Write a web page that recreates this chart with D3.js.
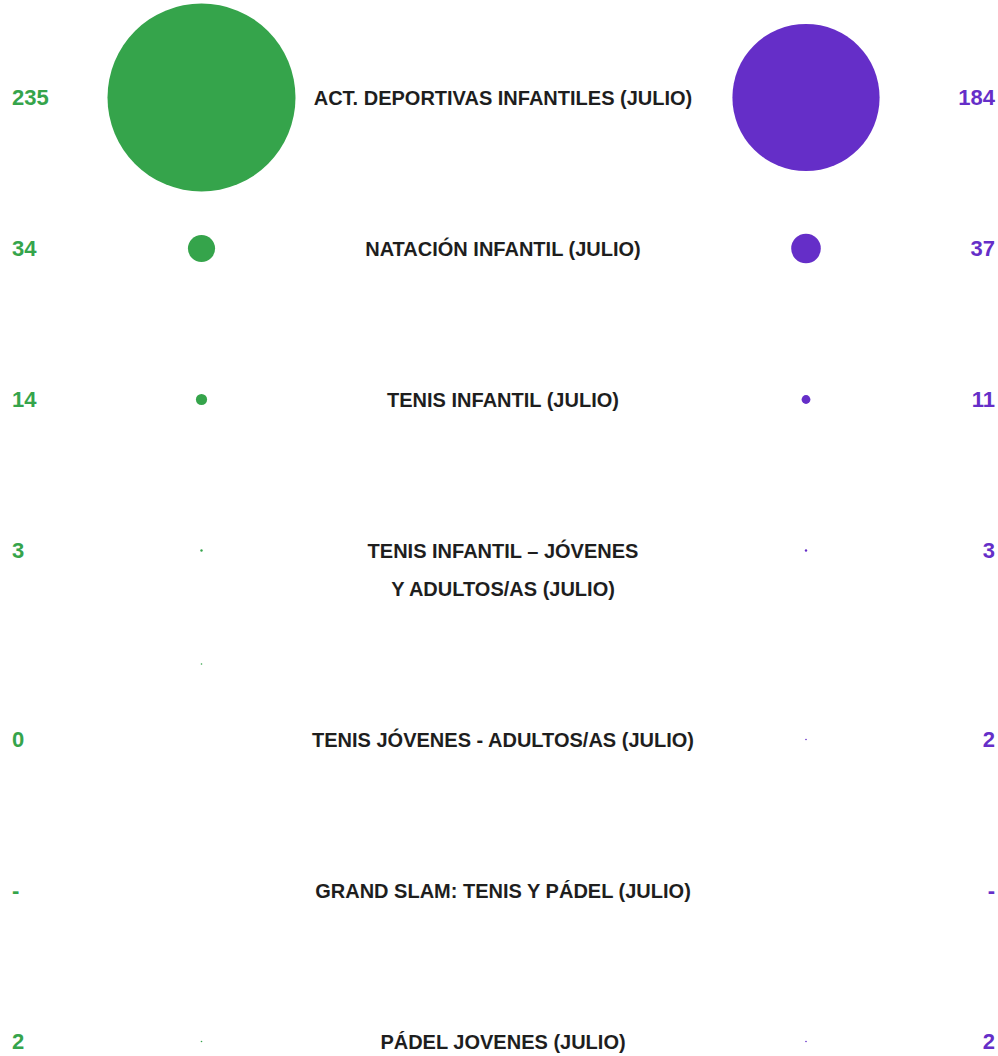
<!DOCTYPE html>
<html><head><meta charset="utf-8">
<script src="https://cdn.jsdelivr.net/npm/d3@7"></script>
<style>
body{margin:0;background:#fff;}
text{font-family:"Liberation Sans Narrow","Liberation Sans",Arial,sans-serif;font-weight:bold;}
</style></head><body>
<svg id="c" width="998" height="1056"></svg>
<script>
const categories = [
  ["ACT. DEPORTIVAS INFANTILES (JULIO)"],
  ["NATACIÓN INFANTIL (JULIO)"],
  ["TENIS INFANTIL (JULIO)"],
  ["TENIS INFANTIL – JÓVENES", "Y ADULTOS/AS (JULIO)"],
  ["TENIS JÓVENES - ADULTOS/AS (JULIO)"],
  ["GRAND SLAM: TENIS Y PÁDEL (JULIO)"],
  ["PÁDEL JOVENES (JULIO)"]
];
const leftValues = [235, 34, 14, 3, 0, null, 2];
const rightValues = [184, 37, 11, 3, 2, null, 2];
const strayDot = [2];

const green = "#35a44b", purple = "#652ec8";
const svg = d3.select("#c");
const rowH = 151, lineH = 38, y0 = 97.5;
let acc = 0;
const rowsY = categories.map(c => { const y = y0 + acc; acc += rowH + (c.length - 1) * lineH; return y; });
const r = d3.scaleLinear().domain([0, 235]).range([0, 94]);
const fmt = v => v == null ? "-" : String(v);

const g = svg.selectAll("g.row").data(categories).join("g").attr("class","row")
  .attr("transform",(d,i)=>`translate(0,${rowsY[i]})`);

g.append("circle").attr("cx",201.5).attr("cy",0).attr("r",(d,i)=>leftValues[i]==null?0:r(leftValues[i])).attr("fill",green);
g.append("circle").attr("cx",806).attr("cy",0).attr("r",(d,i)=>rightValues[i]==null?0:r(rightValues[i])).attr("fill",purple);

g.append("text").attr("x",12).attr("dy","0.35em").attr("font-size",22).attr("fill",green)
  .text((d,i)=>fmt(leftValues[i]));
g.append("text").attr("x",995).attr("dy","0.35em").attr("text-anchor","end").attr("font-size",22).attr("fill",purple)
  .text((d,i)=>fmt(rightValues[i]));

g.each(function(d){
  d3.select(this).selectAll("text.lab").data(d).join("text").attr("class","lab")
    .attr("x",503).attr("y",(t,j)=>j*lineH).attr("dy","0.35em").attr("text-anchor","middle")
    .attr("font-size",20).attr("fill","#1e1e1e").text(t=>t);
});

svg.selectAll("circle.stray").data(strayDot).join("circle").attr("class","stray")
  .attr("cx",201.5).attr("cy",(rowsY[3]+lineH+rowsY[4])/2).attr("r",d=>r(d)).attr("fill",green);
</script></body></html>
